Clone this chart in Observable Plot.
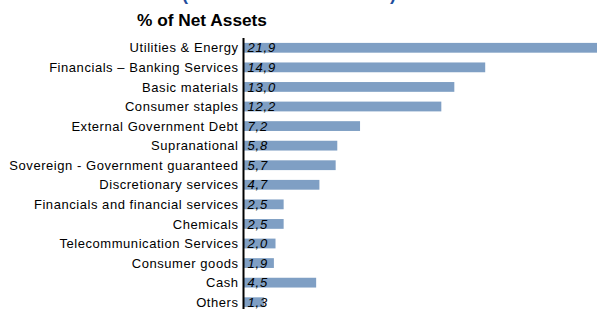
<!DOCTYPE html>
<html>
<head>
<meta charset="utf-8">
<script src="https://cdn.jsdelivr.net/npm/d3@7"></script>
<script src="https://cdn.jsdelivr.net/npm/@observablehq/plot@0.6"></script>
<style>
  html, body { margin: 0; padding: 0; background: #fff; overflow: hidden; width: 597px; height: 309px; }
  body { position: relative; font-family: Arial, "Liberation Sans", sans-serif; }
  #head { position: relative; height: 36px; }
  .paren { position: absolute; top: -15px; font: bold 18px/18px Arial, "Liberation Sans", sans-serif; color: #1f4e9c; }
  #title { position: absolute; left: 137px; top: 10px; font: bold 17.3px/20px Arial, "Liberation Sans", sans-serif; color: #000; white-space: nowrap; }
  #chart svg { overflow: visible; }
  #chart svg g[aria-label="y-axis tick label"] text { letter-spacing: 0.55px; }
  #chart svg g[aria-label="text"] text { letter-spacing: 0.8px; }
</style>
</head>
<body>
<div id="head">
  <span class="paren" style="left:182px">(</span>
  <span class="paren" style="left:390px">)</span>
  <div id="title">% of Net Assets</div>
</div>
<div id="chart"></div>
<script>
const categories = [
  "Utilities & Energy",
  "Financials – Banking Services",
  "Basic materials",
  "Consumer staples",
  "External Government Debt",
  "Supranational",
  "Sovereign - Government guaranteed",
  "Discretionary services",
  "Financials and financial services",
  "Chemicals",
  "Telecommunication Services",
  "Consumer goods",
  "Cash",
  "Others"
];
const values = [21.9, 14.9, 13.0, 12.2, 7.2, 5.8, 5.7, 4.7, 2.5, 2.5, 2.0, 1.9, 4.5, 1.3];

const data = categories.map((c, i) => ({category: c, value: values[i]}));
const fmt = v => v.toFixed(1).replace(".", ",");

const chart = Plot.plot({
  width: 597,
  height: 276,
  marginTop: 2,
  marginBottom: 0,
  marginLeft: 243,
  marginRight: 0,
  style: {fontFamily: "Arial, 'Liberation Sans', sans-serif", fontSize: "13px", color: "#000", background: "#fff"},
  x: {domain: [0, 21.9], range: [243, 599], axis: null},
  y: {domain: categories, paddingInner: 0.5, paddingOuter: 0.25, round: false, label: null},
  marks: [
    Plot.barX(data, {x: "value", y: "category", fill: "#7f9fc4"}),
    Plot.axisY({tickSize: 0, tickPadding: 5, fontSize: 13, label: null, fill: "#000"}),
    Plot.ruleX([0], {stroke: "#000", strokeWidth: 2}),
    Plot.text(data, {x: 0, y: "category", text: d => fmt(d.value), dx: 4, textAnchor: "start", fontStyle: "italic", fontSize: 13, fill: "#000"})
  ]
});
document.getElementById("chart").appendChild(chart);
</script>
</body>
</html>
